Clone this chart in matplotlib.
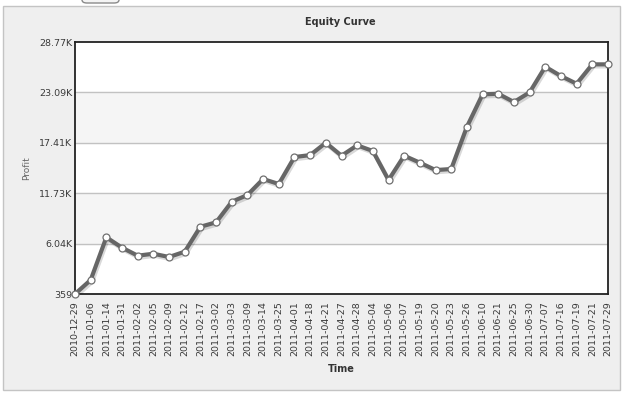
import matplotlib
matplotlib.use("Agg")
import matplotlib.pyplot as plt
import matplotlib.patheffects as pe
from matplotlib.patches import FancyBboxPatch, Rectangle

dates = ["2010-12-29", "2011-01-06", "2011-01-14", "2011-01-31", "2011-02-02",
         "2011-02-05", "2011-02-09", "2011-02-12", "2011-02-17", "2011-03-02",
         "2011-03-03", "2011-03-09", "2011-03-14", "2011-03-25", "2011-04-01",
         "2011-04-18", "2011-04-21", "2011-04-27", "2011-04-28", "2011-05-04",
         "2011-05-06", "2011-05-07", "2011-05-19", "2011-05-20", "2011-05-23",
         "2011-05-26", "2011-06-10", "2011-06-21", "2011-06-25", "2011-06-30",
         "2011-07-07", "2011-07-16", "2011-07-19", "2011-07-21", "2011-07-29"]
profit = [359, 1940, 6750, 5580, 4680, 4900, 4530, 5130, 7940, 8440,
          10760, 11520, 13320, 12760, 15800, 16020, 17410, 15950, 17120, 16480,
          13210, 15950, 15160, 14330, 14450, 19210, 22870, 22930, 22000, 23090,
          25980, 24930, 24060, 26250, 26250]
yticks = [359, 6040, 11730, 17410, 23090, 28770]
ylabels = ["359", "6.04K", "11.73K", "17.41K", "23.09K", "28.77K"]

fig = plt.figure(figsize=(6.25, 3.95), dpi=100)
fig.patch.set_facecolor("white")
# outer panel
fig.patches.append(Rectangle((3 / 625, 5 / 395), 617 / 625, 384 / 395,
                             transform=fig.transFigure, facecolor="#efefef",
                             edgecolor="#c4c4c4", lw=1, zorder=0))
fig.patches.append(FancyBboxPatch((82 / 625, 1 - 3 / 395), 37 / 625, 10 / 395,
                                  boxstyle="round,pad=0,rounding_size=0.008",
                                  transform=fig.transFigure, facecolor="#f4f4f4",
                                  edgecolor="#8a8a8a", lw=1, zorder=0))

ax = fig.add_axes([75 / 625, 1 - 294 / 395, 533 / 625, 252 / 395])
ax.set_zorder(3)
ax.set_facecolor("white")

# alternating bands
for i in range(len(yticks) - 1):
    if i % 2 == 1:
        ax.axhspan(yticks[i], yticks[i + 1], color="#f5f5f5", zorder=0)
for t in yticks[1:-1]:
    ax.axhline(t, color="#c2c2c2", lw=1, zorder=1)

x = list(range(len(dates)))
ax.plot(x, profit, color="#666666", lw=3, zorder=3, solid_joinstyle="round",
        path_effects=[pe.SimpleLineShadow(offset=(1, -1.5), shadow_color="#000000", alpha=0.15),
                      pe.Normal()])
ax.plot(x, profit, "o", ms=5, mfc="white", mec="#707070", mew=0.9, zorder=4,
        clip_on=False)

ax.set_xlim(0, len(dates) - 1)
ax.set_ylim(yticks[0], yticks[-1])
ax.set_yticks(yticks)
ax.set_yticklabels(ylabels)
ax.set_xticks(x)
ax.set_xticklabels(dates, rotation=90)
ax.tick_params(axis="both", length=0, labelsize=6.8, colors="#3a3a3a")
ax.tick_params(axis="x", pad=5)
ax.tick_params(axis="y", pad=2)
for s in ax.spines.values():
    s.set_color("#222222")
    s.set_linewidth(1.3)

fig.text(340 / 625, 1 - 22 / 395, "Equity Curve", ha="center", va="center",
         fontsize=7, fontweight="bold", color="#333333")
fig.text(27 / 625, 1 - 168 / 395, "Profit", ha="center", va="center",
         rotation=90, fontsize=6.5, color="#666666")
fig.text(341 / 625, 1 - 369 / 395, "Time", ha="center", va="center",
         fontsize=7, fontweight="bold", color="#333333")

fig.savefig("out.png", dpi=100, facecolor=fig.get_facecolor())
